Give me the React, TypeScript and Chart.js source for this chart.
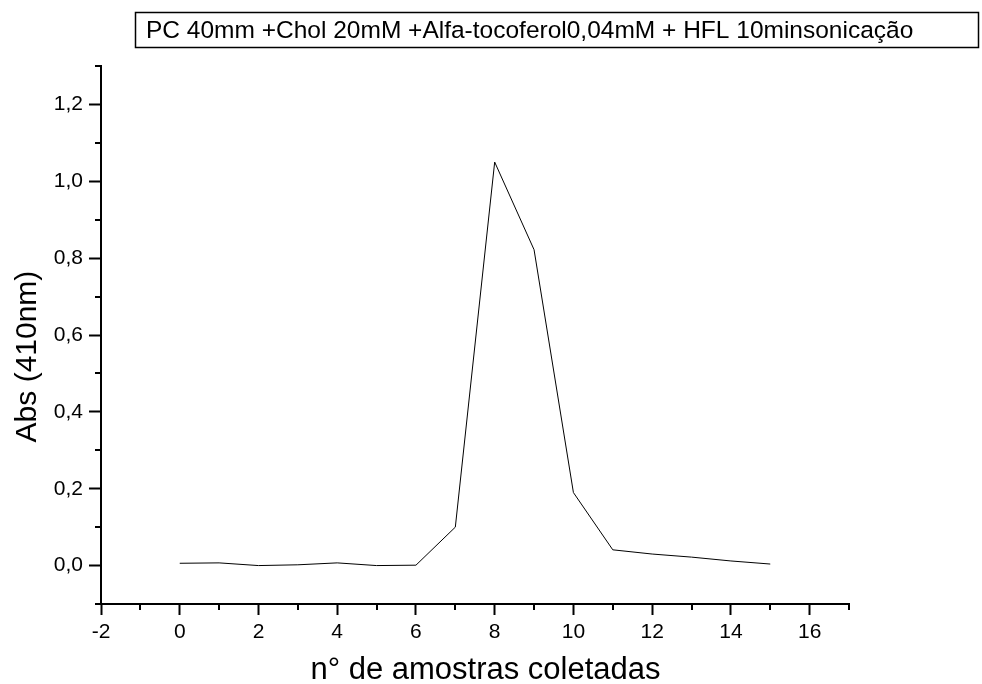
import React, { useEffect, useRef } from "react";
import { Chart, registerables } from "chart.js";

Chart.register(...registerables);

const sampleNumbers = [0, 1, 2, 3, 4, 5, 6, 7, 8, 9, 10, 11, 12, 13, 14, 15];
const absValues = [0.006, 0.007, 0.0, 0.002, 0.007, 0.0, 0.001, 0.1, 1.05, 0.822, 0.19, 0.041, 0.03, 0.022, 0.012, 0.004];

const xMajorTicks = [-2, 0, 2, 4, 6, 8, 10, 12, 14, 16];
const xMinorTicks = [-1, 1, 3, 5, 7, 9, 11, 13, 15, 17];
const yMajorTicks = [0, 0.2, 0.4, 0.6, 0.8, 1.0, 1.2];
const yMinorTicks = [-0.1, 0.1, 0.3, 0.5, 0.7, 0.9, 1.1, 1.3];

const chartTitle = "PC 40mm +Chol 20mM +Alfa-tocoferol0,04mM + HFL 10minsonicação";
const xTitle = "n° de amostras coletadas";
const yTitle = "Abs (410nm)";

const FONT = "Arial, 'Liberation Sans', sans-serif";

const decorPlugin = {
  id: "decor",
  afterDraw(chart: any) {
    const ctx = chart.ctx as CanvasRenderingContext2D;
    const xs = chart.scales.x;
    const ys = chart.scales.y;
    const area = chart.chartArea;
    ctx.save();
    ctx.strokeStyle = "#000";
    ctx.lineWidth = 2;
    // minor ticks
    ctx.beginPath();
    xMinorTicks.forEach((v) => {
      const px = Math.round(xs.getPixelForValue(v));
      ctx.moveTo(px, area.bottom);
      ctx.lineTo(px, area.bottom + 6);
    });
    yMinorTicks.forEach((v) => {
      const py = Math.round(ys.getPixelForValue(v));
      ctx.moveTo(area.left, py);
      ctx.lineTo(area.left - 6, py);
    });
    ctx.stroke();

    // title box
    ctx.lineWidth = 1.5;
    ctx.strokeRect(135.5, 12.5, 843, 35);
    ctx.fillStyle = "#000";
    ctx.font = `24.5px ${FONT}`;
    ctx.textAlign = "left";
    ctx.textBaseline = "middle";
    ctx.fillText(chartTitle, 146, 31);

    // axis titles
    ctx.font = `31px ${FONT}`;
    ctx.textAlign = "center";
    ctx.textBaseline = "middle";
    ctx.fillText(xTitle, area.left + (area.right - area.left) * 0.514, 670);
    ctx.font = `30px ${FONT}`;
    ctx.translate(28, area.top + (area.bottom - area.top) * 0.54);
    ctx.rotate(-Math.PI / 2);
    ctx.fillText(yTitle, 0, 0);
    ctx.restore();
  },
};

export default function App() {
  const ref = useRef<HTMLCanvasElement | null>(null);
  useEffect(() => {
    document.body.style.margin = "0";
    const canvas = ref.current!;
    const chart = new Chart(canvas, {
      type: "scatter",
      data: {
        datasets: [
          {
            data: sampleNumbers.map((x, i) => ({ x, y: absValues[i] })),
            showLine: true,
            borderColor: "#000",
            borderWidth: 1,
            pointRadius: 0,
            fill: false,
          },
        ],
      },
      options: {
        animation: false,
        responsive: false,
        layout: { padding: { left: 0, top: 66, right: 133, bottom: 0 } },
        plugins: { legend: { display: false }, title: { display: false }, tooltip: { enabled: false } },
        scales: {
          x: {
            type: "linear",
            min: -2,
            max: 17,
            afterBuildTicks: (s: any) => {
              s.ticks = xMajorTicks.map((v) => ({ value: v }));
            },
            afterFit: (s: any) => {
              s.height = 80;
            },
            ticks: {
              color: "#000",
              font: { family: FONT, size: 21 },
              padding: 5,
              maxRotation: 0,
              autoSkip: false,
              callback: (v: any) => String(v),
            },
            grid: {
              drawOnChartArea: false,
              drawTicks: true,
              tickLength: 11,
              tickColor: "#000",
              tickWidth: 2,
              color: "#000",
            },
            border: { display: true, color: "#000", width: 2 },
          },
          y: {
            type: "linear",
            min: -0.1,
            max: 1.3,
            afterBuildTicks: (s: any) => {
              s.ticks = yMajorTicks.map((v) => ({ value: v }));
            },
            afterFit: (s: any) => {
              s.width = 101;
            },
            ticks: {
              color: "#000",
              font: { family: FONT, size: 21 },
              padding: 6,
              autoSkip: false,
              callback: (v: any) => Number(v).toFixed(1).replace(".", ","),
            },
            grid: {
              drawOnChartArea: false,
              drawTicks: true,
              tickLength: 12,
              tickColor: "#000",
              tickWidth: 2,
              color: "#000",
            },
            border: { display: true, color: "#000", width: 2 },
          },
        },
      },
      plugins: [decorPlugin],
    });
    return () => chart.destroy();
  }, []);
  return (
    <div style={{ position: "fixed", left: 0, top: 0, width: 982, height: 684, background: "#fff" }}>
      <canvas ref={ref} width={982} height={684} style={{ display: "block" }} />
    </div>
  );
}
